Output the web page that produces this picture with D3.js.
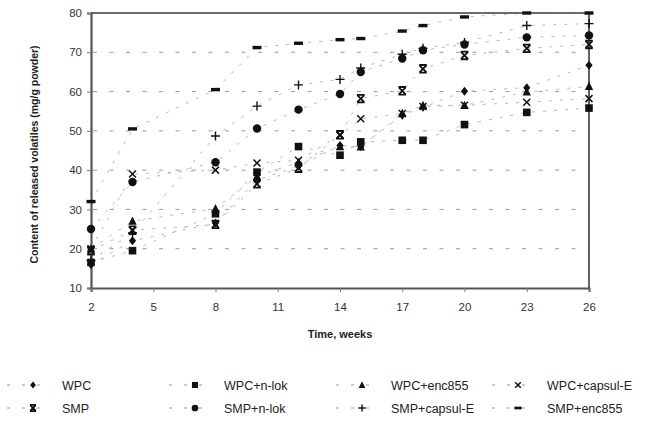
<!DOCTYPE html>
<html>
<head>
<meta charset="utf-8">
<script src="https://cdn.jsdelivr.net/npm/d3@7"></script>
<style>
  html, body { margin: 0; padding: 0; background: #fff; }
  svg { display: block; font-family: "Liberation Sans", Arial, sans-serif; }
</style>
</head>
<body>
<svg id="chart" width="661" height="427"></svg>
<script>
// Sampling times (weeks) and released volatiles (mg/g powder) per formulation
const weeks = [2, 4, 8, 10, 12, 14, 15, 17, 18, 20, 23, 26];
const xTicks = [2, 5, 8, 11, 14, 17, 20, 23, 26];
const yTicks = [10, 20, 30, 40, 50, 60, 70, 80];
const gridValues = [20, 30, 40, 50, 60, 70];

const wpc          = [16, 22, 26.5, 37.5, 41, 46.3, 46, 54, 56, 60.1, 61, 66.7];
const wpcNlok      = [16.5, 19.5, 28.9, 39.5, 46, 43.8, 47.2, 47.6, 47.6, 51.6, 54.7, 55.8];
const wpcEnc855    = [20, 27, 30.2, 38.5, 42, 46, 45.9, 54.5, 56.5, 56.5, 59.9, 61.3];
const wpcCapsulE   = [20, 39, 40, 41.8, 42.5, 48.9, 53.1, 54.4, 56.2, 56.5, 57.3, 58.2];
const smp          = [19.5, 24.7, 26.2, 36.5, 40.5, 49, 58.2, 60.2, 65.8, 69.2, 71, 72];
const smpNlok      = [25, 37, 42, 50.6, 55.4, 59.4, 65, 68.4, 70.5, 72, 73.8, 74.3];
const smpCapsulE   = [17, 24, 48.7, 56.3, 61.7, 63.1, 66, 69.5, 71, 72.5, 76.8, 77.3];
const smpEnc855    = [32, 50.5, 60.5, 71.2, 72.3, 73.2, 73.5, 75.4, 76.8, 79, 80, 80];

const series = [
  { name: "WPC",          values: wpc,        symbol: "diamond" },
  { name: "WPC+n-lok",    values: wpcNlok,    symbol: "square" },
  { name: "WPC+enc855",   values: wpcEnc855,  symbol: "triangle" },
  { name: "WPC+capsul-E", values: wpcCapsulE, symbol: "cross" },
  { name: "SMP",          values: smp,        symbol: "hourglass" },
  { name: "SMP+n-lok",    values: smpNlok,    symbol: "circle" },
  { name: "SMP+capsul-E", values: smpCapsulE, symbol: "plus" },
  { name: "SMP+enc855",   values: smpEnc855,  symbol: "dash" }
];

const svg = d3.select("#chart");
const plot = { left: 91, right: 589, top: 13, bottom: 288 };

const x = d3.scaleLinear().domain([2, 26]).range([plot.left, plot.right]);
const y = d3.scaleLinear().domain([10, 80]).range([plot.bottom, plot.top]);

// Dashed horizontal gridlines
svg.append("g").selectAll("line")
  .data(gridValues).join("line")
  .attr("x1", plot.left + 2).attr("x2", plot.right)
  .attr("y1", d => y(d)).attr("y2", d => y(d))
  .attr("stroke", "#9a9a9a").attr("stroke-width", 1)
  .attr("stroke-dasharray", "4,12.5");

// Series connecting lines (light dashed)
const line = d3.line().x((d, i) => x(weeks[i])).y(d => y(d));
svg.append("g").selectAll("path")
  .data(series).join("path")
  .attr("d", s => line(s.values))
  .attr("fill", "none")
  .attr("stroke", "#b8b8b8")
  .attr("stroke-width", 1)
  .attr("stroke-dasharray", "3,8");

// Frame: top and right edges
svg.append("line").attr("x1", plot.left).attr("x2", plot.right)
  .attr("y1", plot.top).attr("y2", plot.top)
  .attr("stroke", "#3a3a3a").attr("stroke-width", 1.6);
svg.append("line").attr("x1", plot.right).attr("x2", plot.right)
  .attr("y1", plot.top).attr("y2", plot.bottom)
  .attr("stroke", "#3a3a3a").attr("stroke-width", 1.6);

// Axes
const yAxis = d3.axisLeft(y).tickValues(yTicks).tickSize(4).tickFormat(d3.format("d"));
const xAxis = d3.axisBottom(x).tickValues(xTicks).tickSize(4).tickFormat(d3.format("d"));

const gy = svg.append("g").attr("transform", `translate(${plot.left},0)`).call(yAxis);
const gx = svg.append("g").attr("transform", `translate(0,${plot.bottom})`).call(xAxis);

[gx, gy].forEach(g => {
  g.select(".domain").attr("stroke", "#555").attr("stroke-width", 2.2);
  g.selectAll(".tick line").attr("stroke", "#777").attr("stroke-width", 1);
  g.selectAll(".tick text")
    .attr("fill", "#333")
    .style("font-size", "11.5px")
    .style("font-family", "'Liberation Sans', Arial, sans-serif");
});
gy.selectAll(".tick text").attr("x", -9);
gx.selectAll(".tick text").attr("y", 15);

// Axis titles
svg.append("text")
  .attr("x", (plot.left + plot.right) / 2)
  .attr("y", 338)
  .attr("text-anchor", "middle")
  .style("font-size", "11px").style("font-weight", "bold")
  .attr("fill", "#222")
  .text("Time, weeks");

svg.append("text")
  .attr("transform", `translate(38,${(plot.top + plot.bottom) / 2 + 4}) rotate(-90)`)
  .attr("text-anchor", "middle")
  .style("font-size", "10.5px").style("font-weight", "bold")
  .attr("fill", "#222")
  .text("Content of released volatiles (mg/g powder)");

// Marker drawing
function drawMarker(g, type, scale) {
  const k = scale || 1;
  const fill = "#111";
  switch (type) {
    case "diamond":
      g.append("path").attr("d", `M0,${-4.5*k}L${3.6*k},0L0,${4.5*k}L${-3.6*k},0Z`).attr("fill", fill);
      break;
    case "square":
      g.append("rect").attr("x", -3.8*k).attr("y", -3.8*k)
        .attr("width", 7.6*k).attr("height", 7.6*k).attr("fill", fill);
      break;
    case "triangle":
      g.append("path").attr("d", `M0,${-4.6*k}L${4.2*k},${3.6*k}L${-4.2*k},${3.6*k}Z`).attr("fill", fill);
      break;
    case "cross":
      g.append("path").attr("d", `M${-3.5*k},${-3.5*k}L${3.5*k},${3.5*k}M${3.5*k},${-3.5*k}L${-3.5*k},${3.5*k}`)
        .attr("stroke", fill).attr("stroke-width", 1.5).attr("fill", "none");
      break;
    case "hourglass":
      g.append("path").attr("d",
        `M${-3.5*k},${-3.5*k}L${3.5*k},${3.5*k}M${3.5*k},${-3.5*k}L${-3.5*k},${3.5*k}` +
        `M${-3.8*k},${-3.8*k}L${3.8*k},${-3.8*k}M${-3.8*k},${3.8*k}L${3.8*k},${3.8*k}`)
        .attr("stroke", fill).attr("stroke-width", 1.8).attr("fill", "none");
      break;
    case "circle":
      g.append("circle").attr("r", 4.2*k).attr("fill", fill);
      break;
    case "plus":
      g.append("path").attr("d", `M${-4.5*k},0L${4.5*k},0M0,${-4.5*k}L0,${4.5*k}`)
        .attr("stroke", fill).attr("stroke-width", 1.4).attr("fill", "none");
      break;
    case "dash":
      g.append("rect").attr("x", -4.5*k).attr("y", -1.7*k)
        .attr("width", 9*k).attr("height", 3.4*k).attr("fill", fill);
      break;
  }
}

// Data markers
series.forEach(s => {
  const gs = svg.append("g").attr("class", "series");
  s.values.forEach((v, i) => {
    const m = gs.append("g").attr("transform", `translate(${x(weeks[i])},${y(v)})`);
    drawMarker(m, s.symbol, 1);
  });
});

// Legend: two rows of four entries
const legendCols = [33, 195, 362, 518];
const legendRows = [385, 408];
const legend = svg.append("g");
series.forEach((s, i) => {
  const cx = legendCols[i % 4];
  const cy = legendRows[Math.floor(i / 4)];
  legend.append("line")
    .attr("x1", cx - 26).attr("x2", cx + 12)
    .attr("y1", cy).attr("y2", cy)
    .attr("stroke", "#999").attr("stroke-width", 1)
    .attr("stroke-dasharray", "3,12");
  const m = legend.append("g").attr("transform", `translate(${cx},${cy})`);
  drawMarker(m, s.symbol, 0.8);
  legend.append("text")
    .attr("x", cx + 29).attr("y", cy + 4.5)
    .style("font-size", "12.5px")
    .attr("fill", "#222")
    .text(s.name);
});
</script>
</body>
</html>
